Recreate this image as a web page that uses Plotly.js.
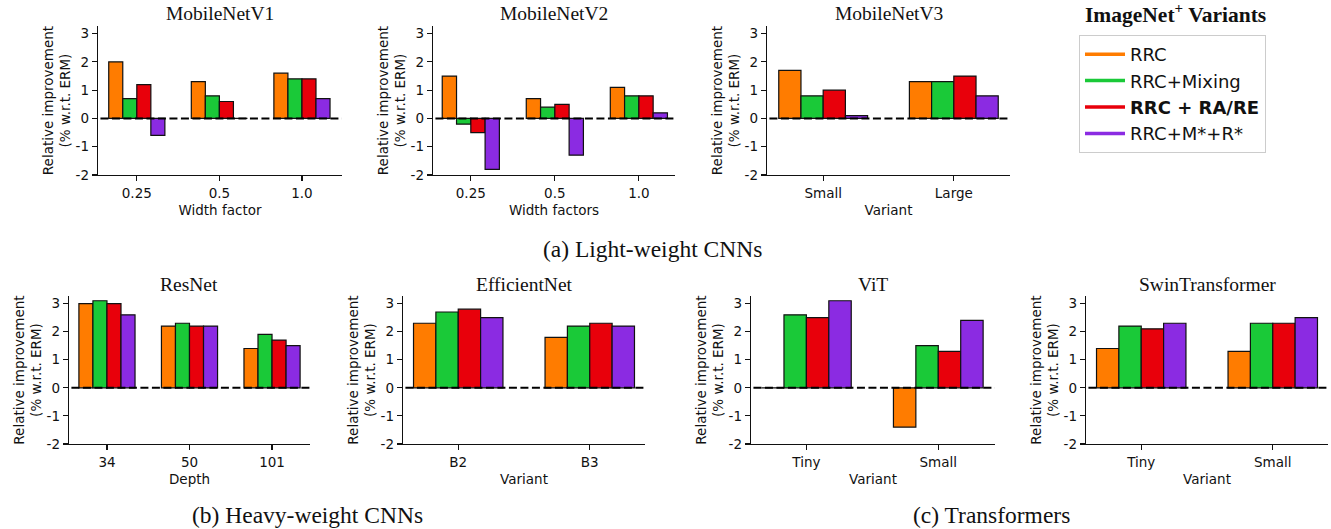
<!DOCTYPE html>
<html>
<head>
<meta charset="utf-8">
<script src="https://cdn.plot.ly/plotly-3.0.1.min.js"></script>
<style>html,body{margin:0;padding:0;background:#fff;}#chart{width:1331px;height:529px;}</style>
</head>
<body>
<div id="chart"></div>
<script>
// ---------- data ----------
const seriesNames = ['RRC', 'RRC+Mixing', 'RRC + RA/RE', 'RRC+M*+R*'];

const mbv1Cats = ['0.25', '0.5', '1.0'];
const mbv1RRC = [2.0, 1.3, 1.6];
const mbv1Mix = [0.7, 0.8, 1.4];
const mbv1RARE = [1.2, 0.6, 1.4];
const mbv1MR = [-0.6, 0.0, 0.7];

const mbv2Cats = ['0.25', '0.5', '1.0'];
const mbv2RRC = [1.5, 0.7, 1.1];
const mbv2Mix = [-0.2, 0.4, 0.8];
const mbv2RARE = [-0.5, 0.5, 0.8];
const mbv2MR = [-1.8, -1.3, 0.2];

const mbv3Cats = ['Small', 'Large'];
const mbv3RRC = [1.7, 1.3];
const mbv3Mix = [0.8, 1.3];
const mbv3RARE = [1.0, 1.5];
const mbv3MR = [0.1, 0.8];

const resCats = ['34', '50', '101'];
const resRRC = [3.0, 2.2, 1.4];
const resMix = [3.1, 2.3, 1.9];
const resRARE = [3.0, 2.2, 1.7];
const resMR = [2.6, 2.2, 1.5];

const effCats = ['B2', 'B3'];
const effRRC = [2.3, 1.8];
const effMix = [2.7, 2.2];
const effRARE = [2.8, 2.3];
const effMR = [2.5, 2.2];

const vitCats = ['Tiny', 'Small'];
const vitRRC = [0.0, -1.4];
const vitMix = [2.6, 1.5];
const vitRARE = [2.5, 1.3];
const vitMR = [3.1, 2.4];

const swinCats = ['Tiny', 'Small'];
const swinRRC = [1.4, 1.3];
const swinMix = [2.2, 2.3];
const swinRARE = [2.1, 2.3];
const swinMR = [2.3, 2.5];

const yTickVals = [-2, -1, 0, 1, 2, 3];
const yTickText = ['-2', '-1', '0', '1', '2', '3'];

const panelTitles = ['MobileNetV1', 'MobileNetV2', 'MobileNetV3', 'ResNet', 'EfficientNet', 'ViT', 'SwinTransformer'];
const panelXTitles = ['Width factor', 'Width factors', 'Variant', 'Depth', 'Variant', 'Variant', 'Variant'];
const groupCaptions = ['(a) Light-weight CNNs', '(b) Heavy-weight CNNs', '(c) Transformers'];
const legendTitle = '<b>ImageNet<sup>+</sup> Variants</b>';

const panelData = [
  [mbv1Cats, [mbv1RRC, mbv1Mix, mbv1RARE, mbv1MR]],
  [mbv2Cats, [mbv2RRC, mbv2Mix, mbv2RARE, mbv2MR]],
  [mbv3Cats, [mbv3RRC, mbv3Mix, mbv3RARE, mbv3MR]],
  [resCats, [resRRC, resMix, resRARE, resMR]],
  [effCats, [effRRC, effMix, effRARE, effMR]],
  [vitCats, [vitRRC, vitMix, vitRARE, vitMR]],
  [swinCats, [swinRRC, swinMix, swinRARE, swinMR]]
];

// ---------- styles / layout geometry ----------
const colors = ['#ff7c00', '#1ac938', '#e8000b', '#8b2be2'];
const W = 1331, H = 529;
const px = v => v / W;
const py = v => 1 - v / H;
const xDomainsPx = [[98, 342], [433, 675], [767, 1010], [69, 310], [403, 645], [751, 995], [1086, 1328]];
const xRanges = [[-0.47, 2.485], [-0.45, 2.43], [-0.43, 1.43], [-0.46, 2.46], [-0.42, 1.42], [-0.42, 1.43], [-0.42, 1.42]];
const rowOf = [0, 0, 0, 1, 1, 1, 1];
const yDomainsPx = [[26, 175], [296, 444]];
const titleYPx = [13, 284];
const sans = 'DejaVu Sans, sans-serif';
const serif = 'Liberation Serif, Times New Roman, serif';
const ink = '#111111';

const traces = [];
const layout = {
  width: W, height: H,
  margin: {l: 0, r: 0, t: 0, b: 0},
  paper_bgcolor: '#ffffff', plot_bgcolor: 'rgba(0,0,0,0)',
  barmode: 'group', bargap: 0.32, bargroupgap: 0,
  showlegend: true,
  legend: {
    x: px(1079), y: py(35), xanchor: 'left', yanchor: 'top',
    bgcolor: '#ffffff', bordercolor: '#cccccc', borderwidth: 1,
    font: {family: sans, size: 18, color: ink},
    itemwidth: 40, traceorder: 'normal'
  },
  shapes: [], annotations: []
};

panelData.forEach((pd, i) => {
  const n = i === 0 ? '' : String(i + 1);
  const xa = 'x' + n, ya = 'y' + n;
  const [cats, vals] = pd;
  vals.forEach((v, s) => {
    traces.push({
      type: 'bar', x: cats, y: v, xaxis: xa, yaxis: ya,
      name: seriesNames[s], showlegend: false,
      marker: {color: colors[s], line: {color: ink, width: 1.2}},
      hoverinfo: 'skip'
    });
  });
  const yd = yDomainsPx[rowOf[i]];
  layout['xaxis' + n] = {
    domain: [px(xDomainsPx[i][0]), px(xDomainsPx[i][1])],
    anchor: ya, type: 'category', range: xRanges[i],
    showline: true, linecolor: ink, linewidth: 1.3,
    ticks: 'outside', ticklen: 5, tickwidth: 1.1, tickcolor: ink,
    showgrid: false, zeroline: false,
    tickfont: {family: sans, size: 13.5, color: ink},
    title: {text: panelXTitles[i], font: {family: sans, size: 13.5, color: ink}, standoff: 6},
    fixedrange: true
  };
  layout['yaxis' + n] = {
    domain: [py(yd[1]), py(yd[0])],
    anchor: xa, range: [-2, 3.27],
    tickvals: yTickVals, ticktext: yTickText,
    showline: true, linecolor: ink, linewidth: 1.3,
    ticks: 'outside', ticklen: 5, tickwidth: 1.1, tickcolor: ink,
    showgrid: false, zeroline: false,
    tickfont: {family: sans, size: 13.5, color: ink},
    title: {text: 'Relative improvement<br>(% w.r.t. ERM)', font: {family: sans, size: 13.5, color: ink}, standoff: 1},
    fixedrange: true
  };
  layout.shapes.push({
    type: 'line', xref: xa + ' domain', yref: ya, x0: 0.01, x1: 1, y0: 0, y1: 0,
    line: {color: '#000000', width: 2, dash: '8px,3.5px'}, layer: 'above'
  });
  layout.annotations.push({
    text: panelTitles[i], xref: 'paper', yref: 'paper',
    x: (px(xDomainsPx[i][0]) + px(xDomainsPx[i][1])) / 2, y: py(titleYPx[rowOf[i]]),
    xanchor: 'center', yanchor: 'middle', showarrow: false,
    font: {family: serif, size: 19.5, color: ink}
  });
});

// legend entries (line symbols)
seriesNames.forEach((nm, s) => {
  traces.push({
    type: 'scatter', mode: 'lines', x: [null], y: [null],
    name: s === 2 ? '<b>' + nm + '</b>' : nm,
    line: {color: colors[s], width: 3.5}, showlegend: true, hoverinfo: 'skip'
  });
});

// captions
const captionPos = [[652, 249], [307, 515], [991, 515]];
groupCaptions.forEach((c, k) => {
  layout.annotations.push({
    text: c, xref: 'paper', yref: 'paper', x: px(captionPos[k][0]), y: py(captionPos[k][1]),
    xanchor: 'center', yanchor: 'middle', showarrow: false,
    font: {family: serif, size: 23.5, color: ink}
  });
});
layout.annotations.push({
  text: legendTitle, xref: 'paper', yref: 'paper', x: px(1175), y: py(13),
  xanchor: 'center', yanchor: 'middle', showarrow: false,
  font: {family: serif, size: 21.5, color: ink}
});

Plotly.newPlot('chart', traces, layout, {staticPlot: true, displayModeBar: false});
</script>
</body>
</html>
